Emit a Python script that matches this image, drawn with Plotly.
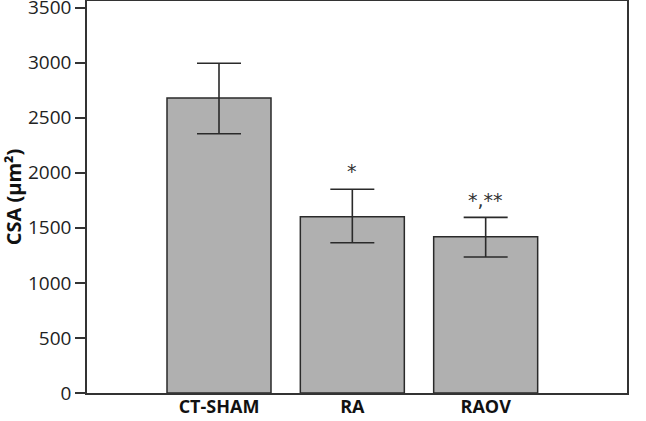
import plotly.graph_objects as go

categories = ["CT-SHAM", "RA", "RAOV"]
means = [2680, 1600, 1420]
err_plus = [315, 250, 175]
err_minus = [325, 235, 185]
sig_labels = ["", "*", "*,**"]
sig_y = [0, 2020, 1750]

fig = go.Figure()
fig.add_trace(go.Bar(
    x=categories, y=means,
    width=0.78,
    marker=dict(color="#b0b0b0", line=dict(color="#2a2a2a", width=1.5)),
    error_y=dict(type="data", symmetric=False, array=err_plus, arrayminus=err_minus,
                 color="#2a2a2a", thickness=1.6, width=22),
))

for c, s, yy in zip(categories, sig_labels, sig_y):
    if s:
        fig.add_annotation(x=c, y=yy, text=s, showarrow=False,
                           font=dict(family="DejaVu Sans", size=19, color="#333"),
                           yanchor="middle")

fig.update_layout(
    width=646, height=421,
    margin=dict(l=87, r=19, t=1, b=28),
    plot_bgcolor="white", paper_bgcolor="white",
    showlegend=False,
    font=dict(family="Open Sans", color="#222"),
)
fig.update_xaxes(range=[-0.99, 3.06], showline=True, linecolor="#333", linewidth=1.5,
                 mirror=True, ticks="", showgrid=False, automargin=False,
                 ticklabelstandoff=-3,
                 tickfont=dict(family="Open Sans", size=18, color="#111", weight="bold"))
fig.update_yaxes(range=[0, 3560], tickvals=[0, 500, 1000, 1500, 2000, 2500, 3000, 3500],
                 showline=True, linecolor="#333", linewidth=1.5, mirror=True,
                 ticks="outside", ticklen=10, tickwidth=1.5, tickcolor="#333",
                 showgrid=False, zeroline=False, automargin=False,
                 ticklabeloverflow="allow",
                 tickfont=dict(family="Open Sans", size=19, color="#222"),
                 title=dict(text="CSA (μm²)", standoff=10,
                            font=dict(family="Open Sans", size=20, color="#111", weight="bold")))

fig.write_html("out.html", config={"displayModeBar": False},
               post_script="document.body.style.margin='0px';document.documentElement.style.overflow='hidden';")
